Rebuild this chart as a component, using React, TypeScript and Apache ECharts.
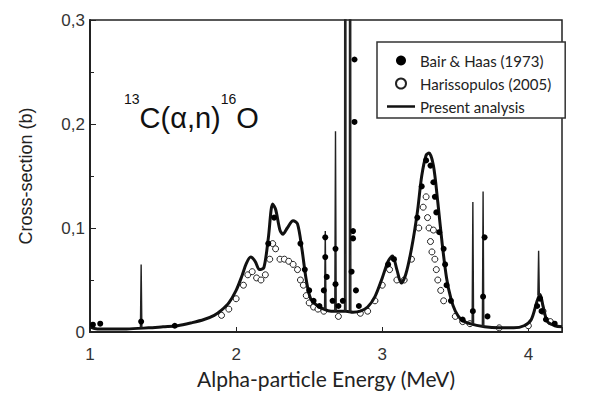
import React, { useEffect, useRef } from "react";
import * as echarts from "echarts";

// x-axis tick values and y-axis tick labels
const xTicks = [1, 2, 3, 4];
const yTickLabels = ["0", "0,1", "0,2", "0,3"];

// Present analysis: broad part of the calculated excitation curve (E in MeV, cross-section in b)
const presentE = [
  1.0, 1.05, 1.15, 1.25, 1.4, 1.5, 1.6, 1.7, 1.78, 1.85, 1.9, 1.95, 2.0, 2.04, 2.07, 2.1,
  2.13, 2.16, 2.19, 2.22, 2.25, 2.27, 2.3, 2.32, 2.35, 2.39, 2.42, 2.45, 2.48, 2.51, 2.55,
  2.6, 2.65, 2.7, 2.75, 2.8, 2.85, 2.9, 2.95, 3.0, 3.04, 3.07, 3.1, 3.13, 3.16, 3.2, 3.24,
  3.27, 3.3, 3.32, 3.35, 3.38, 3.41, 3.44, 3.47, 3.5, 3.54, 3.6, 3.7, 3.8, 3.9, 3.97, 4.02,
  4.06, 4.08, 4.1, 4.13, 4.18, 4.23,
];
const presentXS = [
  0.005, 0.003, 0.003, 0.003, 0.004, 0.005, 0.006, 0.009, 0.012, 0.016, 0.021, 0.028, 0.04,
  0.054, 0.066, 0.072, 0.068, 0.06, 0.062, 0.09, 0.123, 0.118, 0.098, 0.094, 0.1, 0.107,
  0.104, 0.08, 0.05, 0.032, 0.026, 0.022, 0.02, 0.02, 0.02, 0.019, 0.02, 0.024, 0.034, 0.052,
  0.068, 0.073, 0.06, 0.047, 0.055, 0.08, 0.115, 0.15, 0.17, 0.172, 0.16, 0.125, 0.085,
  0.052, 0.032, 0.02, 0.012, 0.008, 0.005, 0.004, 0.004, 0.006, 0.012, 0.03, 0.036, 0.025,
  0.01, 0.006, 0.005,
];

// Present analysis: narrow resonances (energy, peak, underlying level)
const spikeE = [1.35, 2.61, 2.68, 2.747, 2.78, 3.62, 3.69, 4.07];
const spikePeak = [0.065, 0.097, 0.193, 2.0, 2.0, 0.125, 0.135, 0.078];
const spikeBase = [0.004, 0.022, 0.02, 0.02, 0.019, 0.008, 0.005, 0.035];

// Bair & Haas (1973) measured points
const bairHaas: [number, number][] = [
  [1.02, 0.007], [1.07, 0.008], [1.35, 0.01], [1.58, 0.006],
  [2.22, 0.085], [2.26, 0.11], [2.44, 0.085], [2.47, 0.06], [2.5, 0.04], [2.53, 0.03],
  [2.57, 0.025], [2.6, 0.04], [2.61, 0.072], [2.61, 0.091], [2.62, 0.053], [2.66, 0.03],
  [2.68, 0.08], [2.68, 0.046], [2.7, 0.025], [2.73, 0.03], [2.79, 0.058], [2.8, 0.09],
  [2.8, 0.097], [2.81, 0.202], [2.81, 0.262], [2.82, 0.04], [2.84, 0.025],
  [3.04, 0.065], [3.08, 0.07],
  [3.24, 0.11], [3.27, 0.14], [3.3, 0.165], [3.33, 0.16], [3.35, 0.144], [3.36, 0.13],
  [3.37, 0.115], [3.39, 0.096], [3.42, 0.08], [3.43, 0.065], [3.44, 0.045], [3.47, 0.03],
  [3.55, 0.012], [3.62, 0.02], [3.69, 0.034], [3.7, 0.091], [3.72, 0.015],
  [4.06, 0.025], [4.08, 0.032], [4.09, 0.02], [4.12, 0.012], [4.18, 0.008],
];

// Harissopulos (2005) measured points
const harissopulos: [number, number][] = [
  [1.9, 0.016], [1.95, 0.022], [2.0, 0.032], [2.05, 0.045], [2.08, 0.055], [2.11, 0.058],
  [2.14, 0.052], [2.17, 0.05], [2.2, 0.055], [2.23, 0.07], [2.25, 0.085], [2.27, 0.08],
  [2.3, 0.07], [2.33, 0.07], [2.36, 0.068], [2.39, 0.065], [2.42, 0.06], [2.44, 0.05],
  [2.46, 0.045], [2.48, 0.035], [2.5, 0.028], [2.53, 0.024], [2.56, 0.022], [2.6, 0.02],
  [2.7, 0.015], [2.85, 0.018], [2.9, 0.02], [2.95, 0.03], [3.0, 0.045], [3.05, 0.06],
  [3.1, 0.05], [3.15, 0.05], [3.2, 0.07], [3.25, 0.1], [3.28, 0.12], [3.3, 0.13],
  [3.31, 0.11], [3.32, 0.1], [3.33, 0.087], [3.34, 0.077], [3.35, 0.098], [3.36, 0.07],
  [3.37, 0.06], [3.38, 0.05], [3.4, 0.04], [3.42, 0.03], [3.5, 0.015], [3.55, 0.01],
  [3.6, 0.008], [3.8, 0.004], [4.0, 0.006], [4.1, 0.02], [4.15, 0.01],
];

const SANS = "Liberation Sans";
const LEG = "Lato";

export default function App() {
  const ref = useRef<HTMLDivElement>(null);

  useEffect(() => {
    const chart = echarts.init(ref.current!, null, { renderer: "svg" });

    const presentData = presentE.map((e, i) => [e, presentXS[i]]);
    const spikeSeries = spikeE.map((e, i) => ({
      type: "line",
      name: "narrow" + i,
      data: [
        [e - 0.005, spikeBase[i]],
        [e, spikePeak[i]],
        [e + 0.005, spikeBase[i]],
      ],
      symbol: "none",
      showSymbol: false,
      silent: true,
      clip: true,
      z: 3,
      lineStyle: { color: "#222", width: 1.4 },
    }));

    chart.setOption({
      animation: false,
      backgroundColor: "#fff",
      grid: {
        left: 90,
        right: 49,
        top: 20,
        bottom: 60,
        show: true,
        borderColor: "#222",
        borderWidth: 1.5,
      },
      xAxis: {
        type: "value",
        min: 1,
        max: 4.23,
        interval: 1,
        axisLine: { show: true, lineStyle: { color: "#222", width: 2 } },
        axisTick: { show: true, inside: true, length: 5, lineStyle: { color: "#222" } },
        splitLine: { show: false },
        axisLabel: {
          fontFamily: SANS,
          fontSize: 17,
          color: "#333",
          margin: 14,
          formatter: (v: number) => (xTicks.includes(v) ? String(v) : ""),
        },
        name: "Alpha-particle Energy (MeV)",
        nameLocation: "middle",
        nameGap: 36,
        nameTextStyle: { fontFamily: LEG, fontSize: 21, color: "#222" },
      },
      yAxis: {
        type: "value",
        min: 0,
        max: 0.3,
        interval: 0.1,
        axisLine: { show: true, lineStyle: { color: "#222", width: 2 } },
        axisTick: { show: true, inside: true, length: 6, lineStyle: { color: "#222" } },
        minorTick: { show: true, splitNumber: 2, length: 4, lineStyle: { color: "#222" } },
        splitLine: { show: false },
        axisLabel: {
          fontFamily: SANS,
          fontSize: 17,
          color: "#333",
          margin: 5,
          formatter: (v: number) => yTickLabels[Math.round(v / 0.1)] ?? "",
        },
        name: "Cross-section (b)",
        nameLocation: "middle",
        nameGap: 55,
        nameRotate: 90,
        nameTextStyle: { fontFamily: SANS, fontSize: 18, color: "#222" },
      },
      legend: {
        orient: "vertical",
        left: 377,
        top: 42,
        padding: [11, 14, 4, 10],
        itemWidth: 28,
        itemHeight: 10,
        itemGap: 8,
        borderColor: "#333",
        borderWidth: 1.5,
        backgroundColor: "#fff",
        textStyle: { fontFamily: LEG, fontSize: 15, color: "#222" },
        data: [
          { name: "Bair & Haas (1973)", icon: "circle" },
          { name: "Harissopulos (2005)", icon: "circle" },
          { name: "Present analysis", icon: "path://M0,0h28v2.5h-28z" },
        ],
      },
      graphic: [
        {
          type: "text",
          left: 124,
          top: 92,
          z: 100,
          style: {
            text: "{s|13}{m|C(α,n)}{s|16}{m|O}",
            rich: {
              s: { fontSize: 14, lineHeight: 14, verticalAlign: "top", fontFamily: SANS, fill: "#111" },
              m: { fontSize: 29, lineHeight: 52, fontFamily: SANS, fill: "#111" },
            },
          },
        },
      ],
      series: [
        {
          type: "scatter",
          name: "Harissopulos (2005)",
          data: harissopulos,
          symbol: "circle",
          symbolSize: 6,
          z: 2,
          itemStyle: { color: "#fff", borderColor: "#222", borderWidth: 1, opacity: 1 },
        },
        {
          type: "scatter",
          name: "Bair & Haas (1973)",
          data: bairHaas,
          symbol: "circle",
          symbolSize: 6,
          z: 4,
          itemStyle: { color: "#000", opacity: 1 },
        },
        {
          type: "line",
          name: "Present analysis",
          data: presentData,
          symbol: "none",
          showSymbol: false,
          smooth: 0.3,
          z: 3,
          lineStyle: { color: "#111", width: 3 },
          itemStyle: { color: "#111" },
        },
        ...spikeSeries,
      ],
    });

    return () => chart.dispose();
  }, []);

  return (
    <div
      ref={ref}
      style={{ position: "fixed", left: 0, top: 0, width: 611, height: 394, background: "#fff" }}
    />
  );
}
